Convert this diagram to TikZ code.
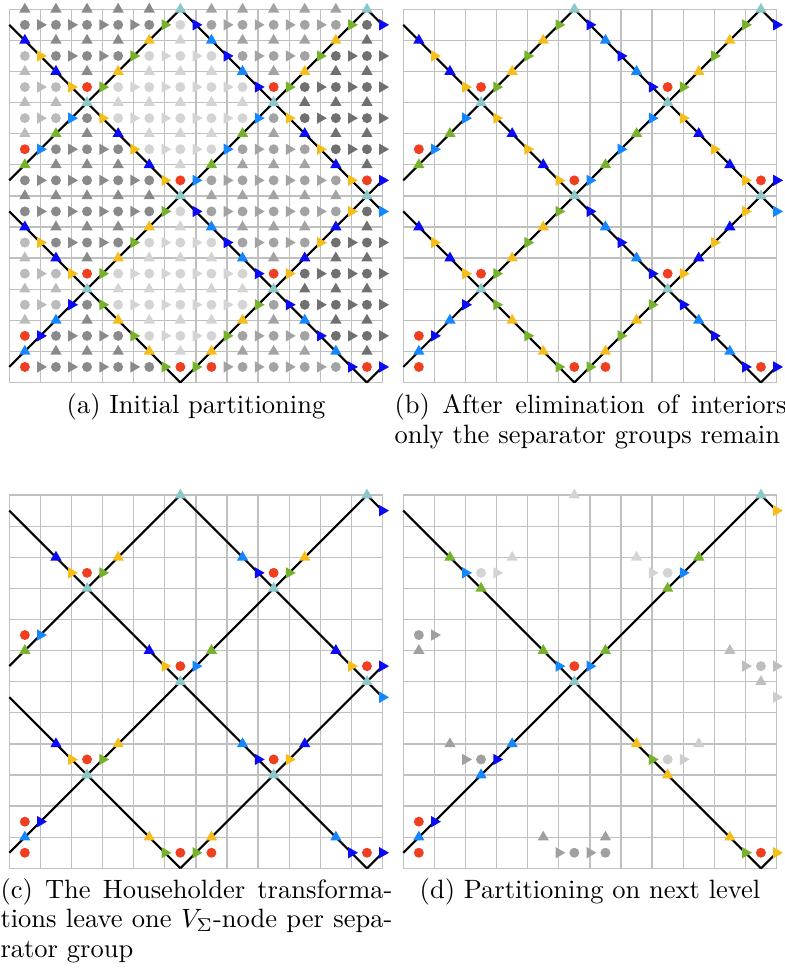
\documentclass[tikz,border=0pt]{standalone}
\usepackage{tikz}
\definecolor{cY}{RGB}{246,190,26}
\definecolor{cG}{RGB}{118,178,43}
\definecolor{cB}{RGB}{10,10,245}
\definecolor{cA}{RGB}{20,135,255}
\definecolor{cC}{RGB}{140,200,200}
\definecolor{cR}{RGB}{240,62,32}
\definecolor{gridc}{RGB}{192,192,192}
\definecolor{g1}{RGB}{187,187,187}
\definecolor{g2}{RGB}{138,138,138}
\definecolor{g3}{RGB}{212,212,212}
\definecolor{g4}{RGB}{163,163,163}
\definecolor{g5}{RGB}{112,112,112}
\definecolor{dT}{RGB}{212,212,212}
\definecolor{dL}{RGB}{160,160,160}
\definecolor{dR}{RGB}{190,190,190}
\definecolor{dS}{RGB}{205,205,205}
\definecolor{dB}{RGB}{160,160,160}
\tikzset{gridline/.style={draw=gridc,line width=0.5pt},
  sepline/.style={draw=black,line width=0.8pt}}
\newcommand\Up[3]{\fill[#3,shift={(#1,#2)}] (0,0.21) -- (-0.182,-0.105) -- (0.182,-0.105) -- cycle;}
\newcommand\Rt[3]{\fill[#3,shift={(#1,#2)}] (0.21,0) -- (-0.105,0.182) -- (-0.105,-0.182) -- cycle;}
\newcommand\Ci[3]{\fill[#3] (#1,#2) circle (0.16);}
\newcommand\Lattice{\foreach \k in {0,...,12}{\draw[gridline] (\k,0) -- (\k,12) (0,\k) -- (12,\k);}}
\newcommand\OldLines{%
  \draw[sepline] (0,5.5) -- (5.5,0) (0,11.5) -- (11.5,0) (5.5,12) -- (12,5.5) (11.5,12) -- (12,11.5)
    (0,6.5) -- (5.5,12) (0,0.5) -- (11.5,12) (5.5,0) -- (12,6.5) (11.5,0) -- (12,0.5);}
\newcommand\Cyans{\foreach \px/\py in {5.5/12,11.5/12,2.5/9,8.5/9,5.5/6,11.5/6,2.5/3,8.5/3}{\Up{\px}{\py}{cC}}}
\newcommand\Reds{\foreach \px/\py in {2.5/9.5,8.5/9.5,5.5/6.5,11.5/6.5,2.5/3.5,8.5/3.5,0.5/7.5,0.5/1.5,0.5/0.5,5.5/0.5,6.5/0.5,11.5/0.5}{\Ci{\px}{\py}{cR}}}
\newcommand\SepNodes{%
\foreach \slp/\cc/\xa/\xb/\colU/\colR in {-1/5.5/0/2.5/cB/cY, -1/5.5/2.5/5.5/cY/cG,
  -1/11.5/0/2.5/cB/cY, -1/11.5/2.5/5.5/cB/cY, -1/11.5/5.5/8.5/cA/cB, -1/11.5/8.5/11.5/cA/cB,
  -1/17.5/5.5/8.5/cA/cB, -1/17.5/8.5/11.5/cB/cY, -1/17.5/11.5/12/cA/cA, -1/23.5/11.5/12/cB/cB,
  1/6.5/0/2.5/cG/cA, 1/6.5/2.5/5.5/cY/cG,
  1/0.5/0/2.5/cA/cB, 1/0.5/2.5/5.5/cY/cG, 1/0.5/5.5/8.5/cG/cA, 1/0.5/8.5/11.5/cY/cG,
  1/-5.5/5.5/8.5/cY/cG, 1/-5.5/8.5/11.5/cB/cY, 1/-5.5/11.5/12/cB/cB, 1/-11.5/11.5/12/cB/cB}{%
  \foreach \n in {1,...,23}{%
    \pgfmathsetmacro\xx{\xa+0.5*\n}%
    \pgfmathsetmacro\yy{\slp*\xx+(\cc)}%
    \pgfmathtruncatemacro\ok{((\xx<\xb-0.01)||((abs(\xx-12)<0.01)&&(\xb>11.99))) ? 1 : 0}%
    \ifnum\ok=1
      \pgfmathtruncatemacro\isint{(abs(\xx-round(\xx))<0.01) ? 1 : 0}%
      \ifnum\isint=1 \Rt{\xx}{\yy}{\colR}\else \Up{\xx}{\yy}{\colU}\fi
    \fi
  }}}
\newcommand\GrayNodes{%
\foreach \i in {0,...,11}{\foreach \j in {0,...,11}{%
  \pgfmathtruncatemacro\isred{((((\i==2)||(\i==8))&&((\j==9)||(\j==3)))||(((\i==5)||(\i==11))&&((\j==6)||(\j==0)))||((\i==0)&&((\j==7)||(\j==1)||(\j==0)))||((\i==6)&&(\j==0))) ? 1 : 0}%
  \ifnum\isred=0
    \pgfmathtruncatemacro\sh{floor((\i+\j-4.5)/6)+floor((\i-\j+6.5)/6)+2}%
    \Ci{\i+0.5}{\j+0.5}{g\sh}%
  \fi
  \pgfmathtruncatemacro\onl{((mod(\i+\j+2,6)==0)||(mod(\i-\j+61,6)==0)) ? 1 : 0}%
  \ifnum\onl=0
    \pgfmathtruncatemacro\sh{floor((\i+\j-4)/6)+floor((\i-\j+7)/6)+2}%
    \Rt{\i+1}{\j+0.5}{g\sh}%
  \fi
  \pgfmathtruncatemacro\onl{((mod(\i+\j+2,6)==0)||(mod(\i-\j+60,6)==0)) ? 1 : 0}%
  \ifnum\onl=0
    \pgfmathtruncatemacro\sh{floor((\i+\j-4)/6)+floor((\i-\j+6)/6)+2}%
    \Up{\i+0.5}{\j+1}{g\sh}%
  \fi
}}}
\newcommand\KeptNodes{%
  \foreach \px/\py/\col in {1.5/4/cB,4.5/1/cY,1.5/10/cB,4.5/7/cB,7.5/4/cA,10.5/1/cA,7.5/10/cA,10.5/7/cB,
    0.5/7/cG,3.5/10/cY,0.5/1/cA,3.5/4/cY,6.5/7/cG,9.5/10/cY,6.5/1/cY,9.5/4/cB}{\Up{\px}{\py}{\col}}
  \foreach \px/\py/\col in {2/3.5/cY,5/0.5/cG,2/9.5/cY,5/6.5/cY,8/3.5/cB,11/0.5/cB,8/9.5/cB,11/6.5/cY,
    12/5.5/cA,12/11.5/cB,1/7.5/cA,3/9.5/cG,1/1.5/cB,3/3.5/cG,6/6.5/cA,9/9.5/cG,6/0.5/cG,9/3.5/cY,
    12/6.5/cB,12/0.5/cB}{\Rt{\px}{\py}{\col}}}
\begin{document}
\begin{tikzpicture}[x=0.3774pt,y=0.3774pt]
\useasboundingbox (0,0) rectangle (785,977);
% (a)
\begin{scope}[shift={(9.3,594.5)},scale=31.1]
  \Lattice \OldLines \GrayNodes \SepNodes \Cyans \Reds
\end{scope}
% (b)
\begin{scope}[shift={(403.3,594.5)},scale=31.1]
  \Lattice \OldLines \SepNodes \Cyans \Reds
\end{scope}
% (c)
\begin{scope}[shift={(9.3,108.7)},scale=31.1]
  \Lattice \OldLines \KeptNodes \Cyans \Reds
\end{scope}
% (d)
\begin{scope}[shift={(403.3,108.7)},scale=31.1]
  \Lattice
  \draw[sepline] (0,11.5) -- (11.5,0) (0,0.5) -- (11.5,12) (11.5,0) -- (12,0.5) (11.5,12) -- (12,11.5);
  \foreach \px/\py/\col in {1.5/10/cG,2.5/9/cG,4.5/7/cG,6.5/7/cG,8.5/9/cG,9.5/10/cG,0.5/1/cA,2.5/3/cA,
    3.5/4/cA,7.5/4/cY,8.5/3/cY,10.5/1/cY,5.5/6/cC,11.5/12/cC,
    5.5/12/dT,3.5/10/dT,7.5/10/dT,0.5/7/dL,1.5/4/dL,10.5/7/dR,11.5/6/dR,9.5/4/dS,4.5/1/dB,6.5/1/dB}{\Up{\px}{\py}{\col}}
  \foreach \px/\py/\col in {2/9.5/cA,5/6.5/cA,6/6.5/cA,9/9.5/cA,1/1.5/cB,3/3.5/cB,8/3.5/cG,11/0.5/cG,
    12/0.5/cY,12/11.5/cY,3/9.5/dT,8/9.5/dT,1/7.5/dL,2/3.5/dL,11/6.5/dR,12/6.5/dR,12/5.5/dS,9/3.5/dS,
    5/0.5/dB,6/0.5/dB}{\Rt{\px}{\py}{\col}}
  \foreach \px/\py/\col in {5.5/6.5/cR,0.5/1.5/cR,0.5/0.5/cR,11.5/0.5/cR,2.5/9.5/dT,8.5/9.5/dT,
    0.5/7.5/dL,2.5/3.5/dL,11.5/6.5/dR,8.5/3.5/dS,5.5/0.5/dB,6.5/0.5/dB}{\Ci{\px}{\py}{\col}}
\end{scope}
% captions
\node[anchor=base,inner sep=0] (capa) at (196,563) {(a) Initial partitioning};
\node[anchor=base west,inner sep=0] (capb1) at (394,563) {\makebox[147.9pt][s]{(b) After elimination of interiors}};
\node[anchor=base west,inner sep=0] (capb2) at (394,533.5) {only the separator groups remain};
\node[anchor=base west,inner sep=0] (capc1) at (0,78.7) {\makebox[147.9pt][s]{(c) The Householder transforma-}};
\node[anchor=base west,inner sep=0] (capc2) at (0,49.3) {\makebox[147.9pt][s]{tions leave one $V_\Sigma$-node per sepa-}};
\node[anchor=base west,inner sep=0] (capc3) at (0,19.7) {rator group};
\node[anchor=base,inner sep=0] (capd) at (590,78.7) {(d) Partitioning on next level};
\end{tikzpicture}
\end{document}
